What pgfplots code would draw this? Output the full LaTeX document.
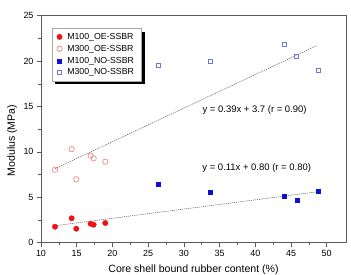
\documentclass[border=0pt]{standalone}
\usepackage{pgfplots}
\pgfplotsset{compat=1.18}
\usepackage{fontspec}
\setmainfont{Liberation Sans}
\usetikzlibrary{shadows}

\definecolor{oered}{RGB}{236,20,20}
\definecolor{oepink}{RGB}{238,120,120}
\definecolor{noblue}{RGB}{15,15,215}
\definecolor{nolight}{RGB}{115,115,225}
\definecolor{axgray}{RGB}{90,90,90}

% modulus vs. core-shell bound rubber content
\pgfplotstableread{
x      y
11.96  1.76
14.29  2.69
14.94  1.54
16.95  2.09
17.37  1.98
19.00  2.17
}\oeHundred
\pgfplotstableread{
x      y
11.96  8.04
14.30  10.30
14.94  6.98
16.95  9.58
17.37  9.29
19.00  8.92
}\oeThree
\pgfplotstableread{
x      y
26.40  6.43
33.73  5.51
44.08  5.11
45.80  4.63
48.84  5.69
}\noHundred
\pgfplotstableread{
x      y
26.40  19.57
33.73  19.93
44.08  21.90
45.80  20.56
48.84  19.02
}\noThree

\begin{document}
\begin{tikzpicture}[x=1bp,y=1bp]
\useasboundingbox (-41,-32.3) rectangle (310,242.7);
\begin{axis}[
  at={(0,0)}, anchor=south west,
  scale only axis, width=305bp, height=227bp,
  xmin=10, xmax=52.7, ymin=0, ymax=25,
  xtick={10,15,...,50}, ytick={0,5,...,25},
  minor x tick num=1, minor y tick num=1,
  tick pos=left, tick align=outside,
  major tick length=4bp, minor tick length=2.5bp,
  every tick/.style={axgray, line width=0.6pt},
  axis line style={axgray, line width=1pt},
  /pgf/number format/assume math mode=true,
  tick label style={font=\fontsize{9}{10}\selectfont},
  xlabel={Core shell bound rubber content (\%)},
  ylabel={Modulus (MPa)},
  label style={font=\fontsize{10.6}{12}\selectfont},
  xlabel style={at={(axis description cs:0.5,-0.12)}, anchor=center},
  ylabel style={at={(axis description cs:-0.095,0.45)}, anchor=center},
  legend cell align=left,
  legend style={at={(0.035,0.944)}, anchor=north west,
    draw=gray!70, line width=0.4pt, fill=white,
    drop shadow={shadow xshift=3.5bp, shadow yshift=-3.5bp, fill=black, opacity=1},
    font=\fontsize{8.8}{9.5}\selectfont, inner xsep=5bp, inner ysep=2.5bp,
    row sep=0.3bp, column sep=3bp},
]
\addplot[only marks, mark=*, mark size=2.7bp, draw=oered, fill=oered] table {\oeHundred};
\addlegendentry{M100\_OE-SSBR}
\addplot[only marks, mark=o, mark size=2.7bp, draw=oepink, line width=0.6pt] table {\oeThree};
\addlegendentry{M300\_OE-SSBR}
\addplot[only marks, mark=square*, mark size=2bp, draw=noblue, fill=noblue] table {\noHundred};
\addlegendentry{M100\_NO-SSBR}
\addplot[only marks, mark=square, mark size=2bp, draw=nolight, line width=0.6pt] table {\noThree};
\addlegendentry{M300\_NO-SSBR}
% fitted trend lines
\addplot[gray!70!black, line width=0.5pt, dash pattern=on 1.2bp off 0.9bp, forget plot] coordinates {(11.96,8.15) (48.6,21.7)};
\addplot[gray!70!black, line width=0.5pt, dash pattern=on 1.2bp off 0.9bp, forget plot] coordinates {(11.96,1.87) (48.84,5.62)};
\node[font=\fontsize{9.5}{11}\selectfont] at (axis cs:39.9,14.6) {y = 0.39x + 3.7 (r = 0.90)};
\node[font=\fontsize{9.5}{11}\selectfont] at (axis cs:40.2,8.19) {y = 0.11x + 0.80 (r = 0.80)};
\end{axis}
\end{tikzpicture}
\end{document}
